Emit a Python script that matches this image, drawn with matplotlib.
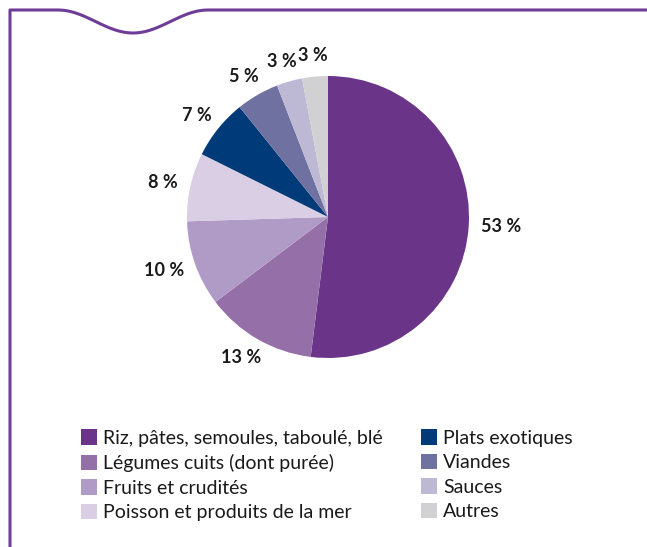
import numpy as np
import matplotlib.pyplot as plt
from matplotlib.lines import Line2D
from matplotlib.patches import Patch

# --- Data ---
categories = [
    "Riz, pâtes, semoules, taboulé, blé",
    "Légumes cuits (dont purée)",
    "Fruits et crudités",
    "Poisson et produits de la mer",
    "Plats exotiques",
    "Viandes",
    "Sauces",
    "Autres",
]
shares = [53, 13, 10, 8, 7, 5, 3, 3]
labels = ["53 %", "13 %", "10 %", "8 %", "7 %", "5 %", "3 %", "3 %"]
colors = ["#6a3589", "#9570a8", "#b09ac6", "#d9cee4",
          "#003a78", "#6f72a0", "#bdb8d4", "#d1d1d3"]

plt.rcParams['font.family'] = ['Lato', 'DejaVu Sans']

W, H = 647, 547
fig = plt.figure(figsize=(W / 100, H / 100), dpi=100)

# --- Pie ---
cx, cy, r = 328, 217, 141
ax = fig.add_axes([(cx - r) / W, (H - cy - r) / H, 2 * r / W, 2 * r / H])
wedges, _ = ax.pie(shares, colors=colors, startangle=90, counterclock=False,
                   radius=1, wedgeprops=dict(linewidth=0))
ax.set_xlim(-1, 1)
ax.set_ylim(-1, 1)
ax.set_aspect('equal')
ax.axis('off')

# labels just outside the rim: push each box outward by half its size
renderer = fig.canvas.get_renderer()
for w, lab in zip(wedges, labels):
    mid = np.deg2rad((w.theta1 + w.theta2) / 2)
    c, s = np.cos(mid), np.sin(mid)
    txt = ax.text(0, 0, lab, ha='center', va='center',
                  fontsize=13, fontweight='bold', color='#1a1a1a', clip_on=False)
    bb = txt.get_window_extent(renderer)
    # 1 data unit = r pixels
    x = 1.09 * c + c * bb.width / 2 / r
    y = 1.09 * s + s * bb.height / 2 / r
    txt.set_position((x, y))

# --- Frame with wave ---
xs = [10, 10, 58]
ys = [547, 10, 10]
t = np.linspace(0, 1, 60)
xs += list(58 + t * 150)
ys += list(10 + 11.5 * (1 - np.cos(2 * np.pi * t)))
xs += [647]
ys += [10]
fig.add_artist(Line2D(np.array(xs) / W, 1 - np.array(ys) / H,
                      transform=fig.transFigure, color='#6e3d97', linewidth=2.2))

# --- Legend ---
handles = [Patch(facecolor=c, edgecolor='none') for c in colors]
fig.legend(handles, categories, ncol=2, frameon=False, fontsize=14,
           loc='upper left', bbox_to_anchor=(63 / W, 1 - 412 / H),
           handlelength=0.85, handleheight=0.85, handletextpad=0.3,
           labelspacing=0.36, columnspacing=1.95, labelcolor='#1a1a1a')

fig.savefig("out.png", dpi=100)
